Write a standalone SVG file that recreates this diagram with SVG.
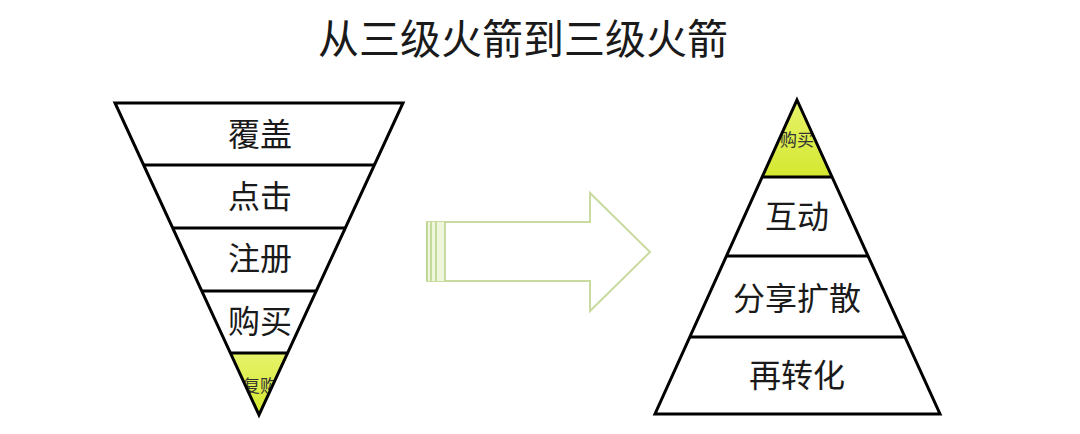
<svg xmlns="http://www.w3.org/2000/svg" width="1080" height="434" viewBox="0 0 1080 434">
<style>
.t{font-family:"Noto Sans CJK SC","Noto Sans",sans-serif;fill:#1a1a1a;text-anchor:middle}
.lbl{font-size:32px}
.sm{font-size:17px;fill:#333}
.ln{stroke:#000;stroke-width:3;fill:none;stroke-linejoin:miter}
</style>
<defs>
<clipPath id="cl"><polygon points="115,103 403,103 259,415"/></clipPath>
<clipPath id="cr"><polygon points="797,100 940,414 655,414"/></clipPath>
<linearGradient id="y" x1="0" y1="0" x2="0" y2="1"><stop offset="0" stop-color="#e6f36a"/><stop offset="1" stop-color="#d4e830"/></linearGradient>
</defs>
<rect width="1080" height="434" fill="#fff"/>
<text class="t" x="523" y="54" style="font-size:41px">从三级火箭到三级火箭</text>
<g id="funnel">
<polygon points="231,353 287,353 259,415" fill="url(#y)"/>
<text class="t sm" x="260" y="392" clip-path="url(#cl)">复购</text>
<polygon class="ln" points="115,103 403,103 259,415"/>
<line class="ln" x1="144" y1="165" x2="374" y2="165"/>
<line class="ln" x1="173" y1="228" x2="345" y2="228"/>
<line class="ln" x1="202" y1="291" x2="316" y2="291"/>
<line class="ln" x1="231" y1="353" x2="287" y2="353"/>
<text class="t lbl" x="260" y="146">覆盖</text>
<text class="t lbl" x="260" y="208">点击</text>
<text class="t lbl" x="260" y="270">注册</text>
<text class="t lbl" x="260" y="333">购买</text>
</g>
<g id="arrow">
<polygon points="427,222 590,222 590,193 650,252 590,311 590,281 427,281" fill="#fff" stroke="#c9dba0" stroke-width="2"/>
<rect x="427" y="222" width="18" height="59" fill="#eef6dc" stroke="none"/>
<g stroke="#b7d08a" stroke-width="1.5">
<line x1="427" y1="222" x2="427" y2="281"/>
<line x1="431" y1="222" x2="431" y2="281"/>
<line x1="436" y1="222" x2="436" y2="281"/>
<line x1="445" y1="222" x2="445" y2="281"/>
</g>
</g>
<g id="pyramid">
<polygon points="797,100 832,177 762,177" fill="url(#y)"/>
<text class="t sm" x="797" y="146" clip-path="url(#cr)">购买</text>
<polygon class="ln" points="797,100 940,414 655,414"/>
<line class="ln" x1="762" y1="177" x2="832" y2="177"/>
<line class="ln" x1="727" y1="256" x2="868" y2="256"/>
<line class="ln" x1="690" y1="337" x2="905" y2="337"/>
<text class="t lbl" x="797" y="228">互动</text>
<text class="t lbl" x="797" y="310">分享扩散</text>
<text class="t lbl" x="797" y="387">再转化</text>
</g>
</svg>
